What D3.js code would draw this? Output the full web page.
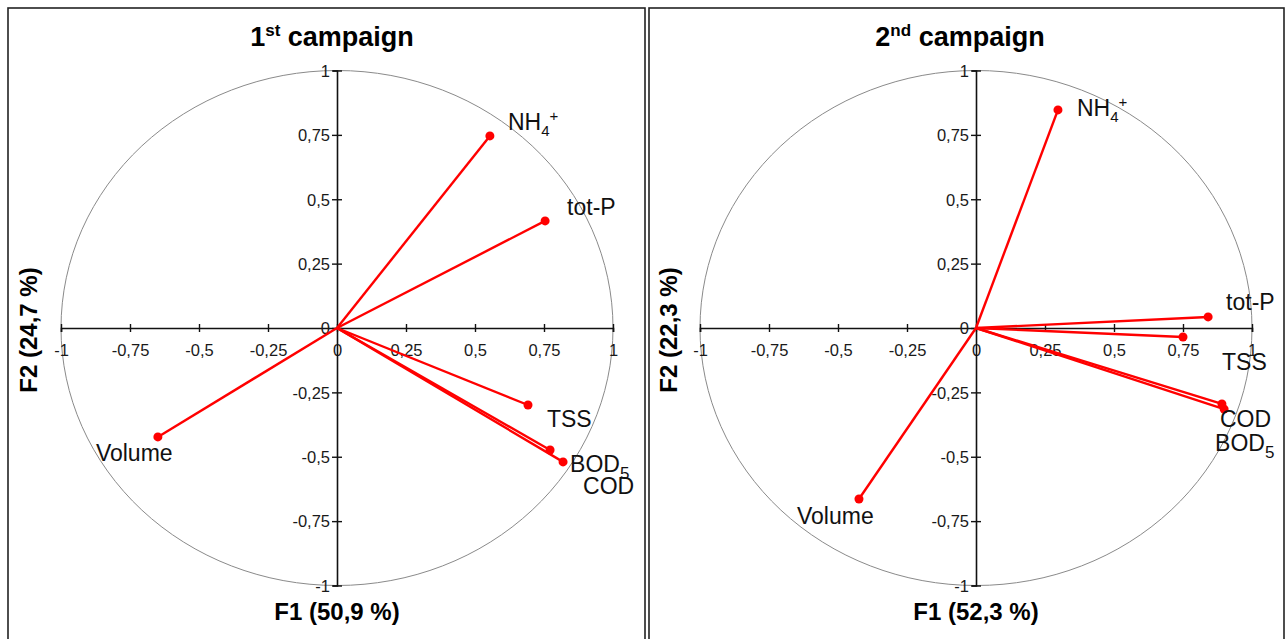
<!DOCTYPE html>
<html>
<head>
<meta charset="utf-8">
<script src="https://cdn.jsdelivr.net/npm/d3@7"></script>
<style>
  html, body { margin: 0; padding: 0; background: #fff; }
  svg { display: block; }
  text { font-family: "Liberation Sans", Arial, sans-serif; }
</style>
</head>
<body>
<svg id="chart" width="1286" height="639"></svg>
<script>
// Variables of the PCA correlation circles
const variables = ["NH4+", "tot-P", "TSS", "BOD5", "COD", "Volume"];

// Loadings on F1 / F2, first campaign
const f1Campaign1 = [0.554, 0.754, 0.692, 0.772, 0.819, -0.649];
const f2Campaign1 = [0.746, 0.416, -0.299, -0.474, -0.520, -0.423];

// Loadings on F1 / F2, second campaign
const f1Campaign2 = [0.297, 0.841, 0.750, 0.899, 0.891, -0.424];
const f2Campaign2 = [0.847, 0.043, -0.035, -0.315, -0.295, -0.664];

// Tick values shared by both axes
const tickValues = [-1, -0.75, -0.5, -0.25, 0, 0.25, 0.5, 0.75, 1];

// Panel titles and explained variance labels
const campaignTitles = [["1", "st", " campaign"], ["2", "nd", " campaign"]];
const f1Labels = ["F1 (50,9 %)", "F1 (52,3 %)"];
const f2Labels = ["F2 (24,7 %)", "F2 (22,3 %)"];

// Label offsets (px) from each vector tip, per panel
const labelOffsets = [
  { "NH4+": [18, -6], "tot-P": [22, -6], "TSS": [19, 22], "BOD5": [20, 22], "COD": [20, 32], "Volume": [-62, 24] },
  { "NH4+": [19, 6], "tot-P": [18, -7], "TSS": [39, 33], "BOD5": [-9, 42], "COD": [-2, 23], "Volume": [-62, 25] }
];

const svg = d3.select("#chart");
const fmt = d => String(d).replace(".", ",");

const panels = [
  { x0: 8, x1: 645, cx: 337, titleX: 332, f1: f1Campaign1, f2: f2Campaign1, f2X: 37 },
  { x0: 649, x1: 1284, cx: 976, titleX: 960, f1: f1Campaign2, f2: f2Campaign2, f2X: 677 }
];

const cy = 328, rx = 276, ry = 257.5;

panels.forEach((p, i) => {
  const g = svg.append("g");

  // Panel frame
  g.append("rect")
    .attr("x", p.x0).attr("y", 8)
    .attr("width", p.x1 - p.x0).attr("height", 650)
    .attr("fill", "none").attr("stroke", "#222").attr("stroke-width", 1.6);

  const x = d3.scaleLinear().domain([-1, 1]).range([p.cx - rx, p.cx + rx]);
  const y = d3.scaleLinear().domain([-1, 1]).range([cy + ry, cy - ry]);

  // Correlation circle
  g.append("ellipse")
    .attr("cx", x(0)).attr("cy", y(0))
    .attr("rx", x(1) - x(0)).attr("ry", y(-1) - y(0))
    .attr("fill", "none").attr("stroke", "#8a8a8a").attr("stroke-width", 1);

  // Horizontal axis (F1)
  const xAxis = g.append("g")
    .attr("transform", `translate(0,${y(0)})`)
    .call(d3.axisBottom(x).tickValues(tickValues).tickFormat(fmt).tickSizeOuter(0).tickSize(4));
  xAxis.select(".domain").attr("stroke", "#111").attr("stroke-width", 1.6);
  xAxis.selectAll(".tick line").attr("y1", -4).attr("y2", 4).attr("stroke", "#111").attr("stroke-width", 1.4);
  xAxis.selectAll(".tick text")
    .attr("y", 28).attr("dy", 0)
    .attr("font-size", 16.5).attr("fill", "#1a1a1a")
    .style("font-family", "'Liberation Sans', Arial, sans-serif");

  // Vertical axis (F2)
  const yAxis = g.append("g")
    .attr("transform", `translate(${x(0)},0)`)
    .call(d3.axisLeft(y).tickValues(tickValues).tickFormat(fmt).tickSizeOuter(0).tickSize(4));
  yAxis.select(".domain").attr("stroke", "#111").attr("stroke-width", 1.6);
  yAxis.selectAll(".tick line").attr("x1", -5).attr("x2", 5).attr("stroke", "#111").attr("stroke-width", 1.4);
  yAxis.selectAll(".tick text")
    .attr("x", -7).attr("dy", "0.35em")
    .attr("font-size", 16.5).attr("fill", "#1a1a1a")
    .style("font-family", "'Liberation Sans', Arial, sans-serif");

  // Loading vectors
  const rows = variables.map((v, k) => ({ name: v, f1: p.f1[k], f2: p.f2[k] }));

  g.append("g").selectAll("line")
    .data(rows).join("line")
    .attr("x1", x(0)).attr("y1", y(0))
    .attr("x2", d => x(d.f1)).attr("y2", d => y(d.f2))
    .attr("stroke", "#ff0000").attr("stroke-width", 2.4);

  g.append("g").selectAll("circle")
    .data(rows).join("circle")
    .attr("cx", d => x(d.f1)).attr("cy", d => y(d.f2))
    .attr("r", 4.5).attr("fill", "#ff0000");

  // Variable labels with chemical sub/superscripts
  const labels = g.append("g").selectAll("text")
    .data(rows).join("text")
    .attr("x", d => x(d.f1) + labelOffsets[i][d.name][0])
    .attr("y", d => y(d.f2) + labelOffsets[i][d.name][1])
    .attr("font-size", 23).attr("fill", "#111");

  labels.each(function (d) {
    const t = d3.select(this);
    if (d.name === "NH4+") {
      t.append("tspan").text("NH");
      t.append("tspan").attr("font-size", 15).attr("dy", 6).text("4");
      t.append("tspan").attr("font-size", 15).attr("dy", -15).text("+");
    } else if (d.name === "BOD5") {
      t.append("tspan").text("BOD");
      t.append("tspan").attr("font-size", 17).attr("dy", 7).text("5");
    } else {
      t.text(d.name);
    }
  });

  // Panel title
  const title = g.append("text")
    .attr("x", p.titleX).attr("y", 46)
    .attr("text-anchor", "middle")
    .attr("font-size", 27).attr("font-weight", "bold").attr("fill", "#000");
  title.append("tspan").text(campaignTitles[i][0]);
  title.append("tspan").attr("font-size", 17).attr("dy", -10).text(campaignTitles[i][1]);
  title.append("tspan").attr("dy", 10).text(campaignTitles[i][2]);

  // Axis titles
  g.append("text")
    .attr("x", x(0)).attr("y", 620)
    .attr("text-anchor", "middle")
    .attr("font-size", 24).attr("font-weight", "bold").attr("fill", "#000")
    .text(f1Labels[i]);

  g.append("text")
    .attr("transform", `translate(${p.f2X},${y(0) + 2}) rotate(-90)`)
    .attr("text-anchor", "middle")
    .attr("font-size", 24).attr("font-weight", "bold").attr("fill", "#000")
    .text(f2Labels[i]);
});
</script>
</body>
</html>
